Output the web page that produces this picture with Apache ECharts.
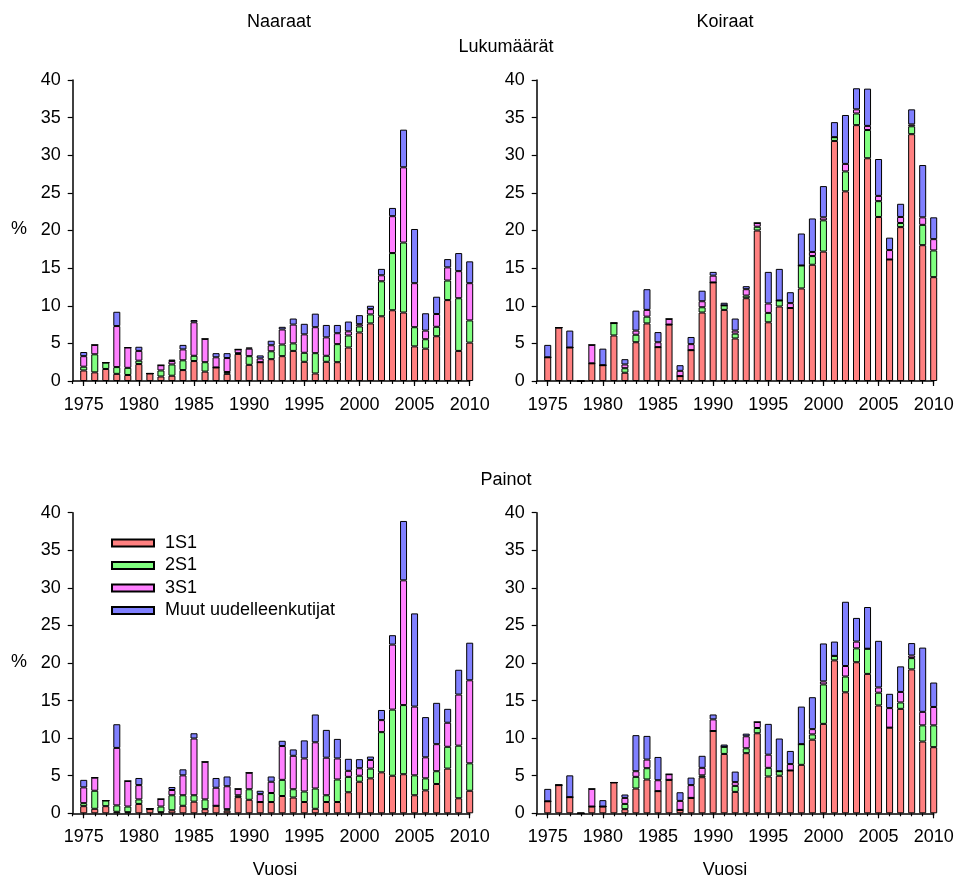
<!DOCTYPE html>
<html><head><meta charset="utf-8">
<script src="https://cdn.jsdelivr.net/npm/echarts@6/dist/echarts.min.js"></script>
<style>html,body{margin:0;padding:0;background:#fff}#c{width:957px;height:880px}</style>
</head><body><div id="c"></div>
<script>
const years = [];
for (let y = 1975; y <= 2010; y++) years.push(String(y));
const seriesNames = ['1S1', '2S1', '3S1', 'Muut uudelleenkutijat'];
const yTicks = [0, 5, 10, 15, 20, 25, 30, 35, 40];

// Naaraat, Lukumäärät
const nl_1S1 = [1.4,1.15,1.6,0.95,0.8,2.25,1.0,0.6,0.7,1.45,2.65,1.25,1.8,0.95,3.6,2.15,2.5,2.9,3.3,4.0,2.55,1.0,2.55,2.5,4.45,6.45,7.65,8.6,9.4,9.1,4.6,4.3,5.95,10.75,4.0,5.1];
const nl_2S1 = [0.5,2.4,0.85,0.9,0.95,0.45,0,0.8,1.5,1.3,0.7,1.25,0,0.25,0.1,1.15,0,1.05,1.55,1.0,1.2,2.7,0.8,2.4,1.6,0.8,1.2,4.65,7.6,9.3,2.55,1.25,1.25,2.6,7.0,2.95];
const nl_3S1 = [1.4,1.25,0,5.45,2.7,1.3,0,0.7,0.45,1.45,4.45,3.1,1.35,1.85,0.5,1.0,0.5,0.8,2.0,2.5,2.45,3.45,2.45,1.45,0.55,0.3,0.7,0.8,4.9,10.0,5.85,1.15,1.7,1.75,3.6,4.95];
const nl_muut = [0.55,0,0,1.9,0,0.55,0,0,0.2,0.6,0.3,0,0.55,0.65,0,0.15,0.4,0.6,0.35,0.8,1.4,1.8,1.65,1.1,1.3,1.2,0.45,0.85,1.1,5.0,7.2,2.3,2.3,1.1,2.4,2.9];

// Koiraat, Lukumäärät
const kl_1S1 = [3.15,7.1,4.45,0,2.35,2.1,6.05,1.1,5.15,7.65,4.5,7.5,0.65,4.1,9.1,13.1,9.45,5.65,11.0,20.0,7.8,9.9,9.7,12.3,15.45,17.2,31.9,25.2,34.0,29.6,21.8,16.15,20.45,32.8,18.05,13.8];
const kl_2S1 = [0,0,0,0,0,0,1.65,0.6,1.0,0.9,0,0,0,0,0.7,0,0.6,0.65,0.35,0.5,1.25,0.8,0,3.05,1.15,4.15,0.5,2.65,1.55,3.75,2.1,0,0.55,1.05,2.7,3.55];
const kl_3S1 = [0,0,0,0,2.45,0,0,0.5,0.55,0.9,0.65,0.75,0.7,0.8,0.8,0.9,0,0.4,0.85,0.5,1.25,0,0.65,0,0.55,0.4,0,1.0,0.55,0.55,0.7,1.25,0.8,0.25,1.0,1.5];
const kl_muut = [1.65,0,2.25,0,0,2.2,0,0.7,2.65,2.75,1.35,0,0.75,0.95,1.4,0.5,0.35,1.6,0.4,0,4.2,4.2,1.45,4.25,4.45,4.15,2.0,6.5,2.8,4.95,4.9,1.65,1.75,2.0,6.95,2.9];

// Naaraat, Painot
const np_1S1 = [0.95,0.6,0.95,0.2,0.15,1.25,0.6,0.15,0.4,1.0,1.55,0.55,1.0,0.35,2.15,1.8,1.5,1.5,2.3,2.1,1.5,0.6,1.5,1.5,2.8,4.2,4.65,5.45,5.0,5.2,2.4,3.05,3.9,5.95,2.0,3.0];
const np_2S1 = [0.4,2.4,0.75,0.85,0.75,0.6,0,0.75,2.0,1.4,0.85,1.3,0,0.2,0.25,1.4,0,1.2,2.15,1.1,1.4,2.7,0.9,3.0,2.05,0.8,1.3,5.35,8.8,9.2,2.65,1.6,1.7,2.9,7.0,3.65];
const np_3S1 = [2.1,1.75,0,7.65,3.4,1.9,0,1.0,0.7,2.65,7.55,5.0,2.4,3.05,0.85,2.2,1.05,1.5,4.5,4.45,4.4,6.15,5.0,2.8,0.8,1.0,1.15,1.6,8.65,16.6,9.15,2.8,3.6,3.2,6.8,11.05];
const np_muut = [1.0,0,0,3.15,0,0.95,0,0,0.4,0.8,0.7,0,1.3,1.3,0,0,0.45,0.7,0.7,0.85,2.4,3.7,3.7,2.6,1.6,1.2,0.45,1.35,1.25,7.9,12.4,5.35,5.5,1.85,3.3,5.0];

// Koiraat, Painot
const kp_1S1 = [1.6,3.75,2.15,0,0.9,0.9,4.1,0.55,3.3,4.5,2.95,4.45,0.45,2.05,4.8,10.95,7.9,2.85,8.0,10.65,4.9,5.0,5.7,6.45,9.8,11.9,20.35,16.1,20.1,18.55,14.35,11.4,13.9,19.15,9.55,8.8];
const kp_2S1 = [0,0,0,0,0,0,0,0.7,1.55,1.5,0,0,0,0,0.25,0,0.95,0.8,0.65,0.7,1.15,0.6,0,2.75,0.7,5.25,0.6,2.1,1.85,3.35,1.7,0,0.85,1.5,2.15,2.9];
const kp_3S1 = [0,0,0,0,2.35,0,0,0.8,0.75,1.15,1.45,0.75,1.2,1.7,1.0,1.55,0,0.5,1.6,0.8,1.75,0,0.85,0,0.7,0.4,0,1.4,0.9,0,0.7,2.6,1.4,0.35,1.8,2.45];
const kp_muut = [1.65,0,2.9,0,0,0.85,0,0.45,4.8,3.15,3.1,0,1.15,1.0,1.6,0.65,0.3,1.4,0.35,0,4.1,4.35,1.75,5.0,4.25,5.05,1.9,8.55,3.15,5.55,6.2,1.9,3.4,1.65,8.55,3.25];

const panels = [
  [nl_1S1, nl_2S1, nl_3S1, nl_muut],
  [kl_1S1, kl_2S1, kl_3S1, kl_muut],
  [np_1S1, np_2S1, np_3S1, np_muut],
  [kp_1S1, kp_2S1, kp_3S1, kp_muut]
];
const colors = ['#ff8080', '#80ff80', '#ff80ff', '#8080ff'];
const FONT = "'Liberation Sans', Arial, sans-serif";
const FS = 18;

// axis categories: a leading empty slot so that 1975 sits one step from the y axis
const axisCats = ['1974'].concat(years);

const grids = [
  {left: 72.7, top: 80, width: 397, height: 301},
  {left: 536.7, top: 80, width: 397, height: 301},
  {left: 72.7, top: 512.7, width: 397, height: 300.6},
  {left: 536.7, top: 512.7, width: 397, height: 300.6}
];

const xAxes = [], yAxes = [], series = [];
grids.forEach((g, i) => {
  g.containLabel = false;
  xAxes.push({
    type: 'category', gridIndex: i, data: axisCats, boundaryGap: false, position: 'bottom',
    axisLine: {show: true, lineStyle: {color: '#000', width: 1.5}},
    axisTick: {show: true, length: 5, lineStyle: {color: '#000', width: 1.2},
      interval: (idx, v) => Number(v) % 5 === 0 && v !== '1974'},
    axisLabel: {show: true, color: '#000', fontFamily: FONT, fontSize: FS, margin: 15,
      interval: (idx, v) => Number(v) % 5 === 0 && v !== '1974'},
    splitLine: {show: false}
  });
  xAxes.push({
    type: 'category', gridIndex: i, data: axisCats, boundaryGap: false, position: 'bottom', offset: 0,
    axisLine: {show: false},
    axisTick: {show: true, length: 3, lineStyle: {color: '#000', width: 1.2}, interval: 0},
    axisLabel: {show: false},
    splitLine: {show: false}
  });
  yAxes.push({
    type: 'value', gridIndex: i, min: 0, max: 40, interval: 5,
    axisLine: {show: true, lineStyle: {color: '#000', width: 1.5}},
    axisTick: {show: true, length: 5, lineStyle: {color: '#000', width: 1.2}},
    axisLabel: {color: '#000', fontFamily: FONT, fontSize: FS, margin: 12,
      formatter: v => yTicks.indexOf(v) >= 0 ? String(v) : ''},
    splitLine: {show: false}
  });
  panels[i].forEach((vals, s) => {
    series.push({
      name: seriesNames[s], type: 'bar', stack: 'p' + i,
      xAxisIndex: i * 2, yAxisIndex: i,
      barWidth: 7, clip: false,
      itemStyle: {color: colors[s], borderColor: '#000', borderWidth: 1},
      emphasis: {disabled: true},
      data: [null].concat(vals)
    });
  });
});

const txt = (x, y, t) => ({type: 'text', x: x, y: y, style: {text: t, fill: '#000',
  font: FS + 'px ' + FONT, textAlign: 'center', textVerticalAlign: 'middle'}});

const chart = echarts.init(document.getElementById('c'), null, {renderer: 'canvas'});
chart.setOption({
  animation: false,
  grid: grids,
  xAxis: xAxes,
  yAxis: yAxes,
  legend: {
    data: seriesNames, orient: 'vertical', left: 111, top: 532, padding: 0,
    itemWidth: 42, itemHeight: 7, itemGap: 0.5, icon: 'rect', selectedMode: false,
    textStyle: {color: '#000', fontFamily: FONT, fontSize: FS, lineHeight: 22, padding: [0, 0, 0, 6]}
  },
  graphic: [
    txt(279, 22, 'Naaraat'), txt(725, 22, 'Koiraat'),
    txt(506, 47, 'Lukumäärät'), txt(506, 480, 'Painot'),
    txt(275, 870, 'Vuosi'), txt(725, 870, 'Vuosi'),
    txt(19, 229, '%'), txt(19, 662, '%')
  ],
  series: series
});
</script></body></html>
